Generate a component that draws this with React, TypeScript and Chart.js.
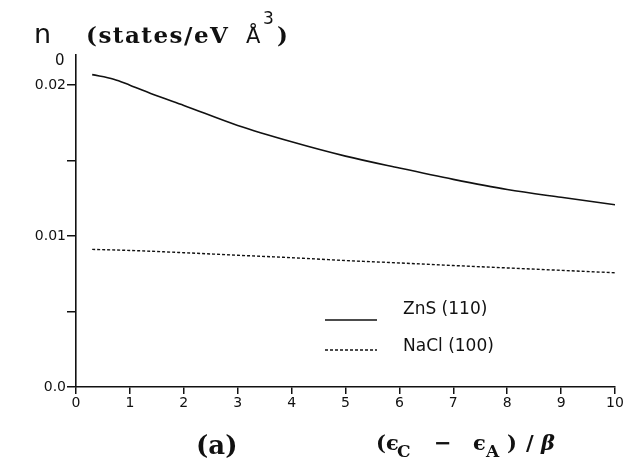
import React, { useEffect, useRef } from "react";
import { Chart, registerables } from "chart.js";

Chart.register(...registerables);

const xZnS = [0.3, 0.7, 1, 1.5, 2, 3, 4, 5, 6, 7, 8, 9, 10];
const yZnS = [0.0207, 0.0204, 0.02, 0.0193, 0.01866, 0.01733, 0.01625, 0.0153, 0.01451, 0.01376, 0.01309, 0.01257, 0.01208];
const xNaCl = [0.3, 1, 2, 3, 4, 5, 6, 7, 8, 9, 10];
const yNaCl = [0.00912, 0.00905, 0.0089, 0.00873, 0.00857, 0.00838, 0.00822, 0.00805, 0.00789, 0.00773, 0.00757];
const yTicks = [0, 0.005, 0.01, 0.015, 0.02];
const yTickLabels: Record<string, string> = { "0": "0.0", "0.01": "0.01", "0.02": "0.02" };
const xTicks = [0, 1, 2, 3, 4, 5, 6, 7, 8, 9, 10];
const seriesNames = ["ZnS (110)", "NaCl (100)"];

const SERIF = "'DejaVu Serif', 'Liberation Serif', serif";
const SANS = "'DejaVu Sans', sans-serif";

const textPlugin = {
  id: "textPlugin",
  afterDraw(chart: any) {
    const ctx = chart.ctx as any;
    ctx.save();
    ctx.fillStyle = "#111";
    ctx.textBaseline = "alphabetic";
    ctx.textAlign = "left";
    // y title
    ctx.font = `27px ${SANS}`;
    ctx.fillText("n", 34, 43);
    ctx.font = `bold 23px ${SERIF}`;
    ctx.letterSpacing = "1.5px";
    ctx.fillText("(states/eV", 86, 43);
    ctx.letterSpacing = "0px";
    ctx.font = `21px ${SANS}`;
    ctx.fillText("Å", 246, 43);
    ctx.font = `17px ${SANS}`;
    ctx.fillText("3", 263, 24);
    ctx.font = `bold 23px ${SERIF}`;
    ctx.fillText(")", 277, 43);
    // stray top label
    ctx.font = `15px ${SANS}`;
    ctx.fillText("0", 55, 65);
    // bottom labels
    ctx.font = `bold 26px ${SERIF}`;
    ctx.fillText("(a)", 196, 454);
    const by = 450;
    const sy = 457;
    ctx.font = `bold 21px ${SERIF}`;
    ctx.fillText("(", 376, by);
    ctx.fillText("ϵ", 386, by);
    ctx.font = `bold 17px ${SERIF}`;
    ctx.fillText("C", 397, sy);
    ctx.font = `bold 21px ${SERIF}`;
    ctx.fillText("−", 434, by);
    ctx.fillText("ϵ", 473, by);
    ctx.font = `bold 17px ${SERIF}`;
    ctx.fillText("A", 486, sy);
    ctx.font = `bold 21px ${SERIF}`;
    ctx.fillText(")", 507, by);
    ctx.fillText("/", 526, by);
    ctx.font = `bold italic 21px ${SERIF}`;
    ctx.fillText("β", 541, by);
    // legend
    const ds = chart.data.datasets;
    const ly = [320, 350];
    const ty = [310, 347];
    for (let i = 0; i < 2; i++) {
      ctx.beginPath();
      ctx.strokeStyle = "#111";
      ctx.lineWidth = 1.4;
      ctx.setLineDash(ds[i].borderDash || []);
      ctx.moveTo(325, ly[i]);
      ctx.lineTo(377, ly[i]);
      ctx.stroke();
      ctx.setLineDash([]);
      ctx.font = `17px ${SANS}`;
      ctx.textBaseline = "middle";
      ctx.fillText(seriesNames[i], 403, ty[i]);
      ctx.textBaseline = "alphabetic";
    }
    ctx.restore();
  },
};

export default function App() {
  const ref = useRef<HTMLCanvasElement>(null);
  useEffect(() => {
    const chart = new Chart(ref.current!, {
      type: "line",
      data: {
        datasets: [
          {
            label: seriesNames[0],
            data: xZnS.map((x, i) => ({ x, y: yZnS[i] })),
            borderColor: "#111",
            borderWidth: 1.6,
            pointRadius: 0,
            cubicInterpolationMode: "monotone",
            fill: false,
          },
          {
            label: seriesNames[1],
            data: xNaCl.map((x, i) => ({ x, y: yNaCl[i] })),
            borderColor: "#111",
            borderWidth: 1.4,
            borderDash: [3, 2],
            pointRadius: 0,
            cubicInterpolationMode: "monotone",
            fill: false,
          },
        ],
      },
      options: {
        animation: false,
        responsive: false,
        layout: { padding: { top: 55, right: 11, left: 0, bottom: 0 } },
        plugins: { legend: { display: false }, tooltip: { enabled: false } },
        scales: {
          x: {
            type: "linear",
            min: 0,
            max: 10,
            afterBuildTicks: (s: any) => {
              s.ticks = xTicks.map((v) => ({ value: v }));
            },
            afterFit: (s: any) => {
              s.height = 79;
            },
            ticks: {
              color: "#111",
              font: { family: SANS, size: 14 },
              padding: 1,
              maxRotation: 0,
              callback: (v: any) => String(v),
            },
            grid: { drawOnChartArea: false, drawTicks: true, tickLength: 7, color: "#111", lineWidth: 1.5 },
            border: { display: true, color: "#111", width: 1.6 },
          },
          y: {
            type: "linear",
            min: 0,
            max: 0.022,
            afterBuildTicks: (s: any) => {
              s.ticks = yTicks.map((v) => ({ value: v }));
            },
            afterFit: (s: any) => {
              s.width = 76;
            },
            ticks: {
              color: "#111",
              font: { family: SANS, size: 14 },
              padding: 1,
              callback: (v: any) => yTickLabels[String(Math.round(v * 1000) / 1000)] ?? "",
            },
            grid: { drawOnChartArea: false, drawTicks: true, tickLength: 9, color: "#111", lineWidth: 1.5 },
            border: { display: true, color: "#111", width: 1.6 },
          },
        },
      },
      plugins: [textPlugin],
    } as any);
    return () => chart.destroy();
  }, []);
  return (
    <div style={{ position: "fixed", left: 0, top: 0, width: 626, height: 466, background: "#fff" }}>
      <canvas ref={ref} width={626} height={466} style={{ width: 626, height: 466 }} />
    </div>
  );
}
